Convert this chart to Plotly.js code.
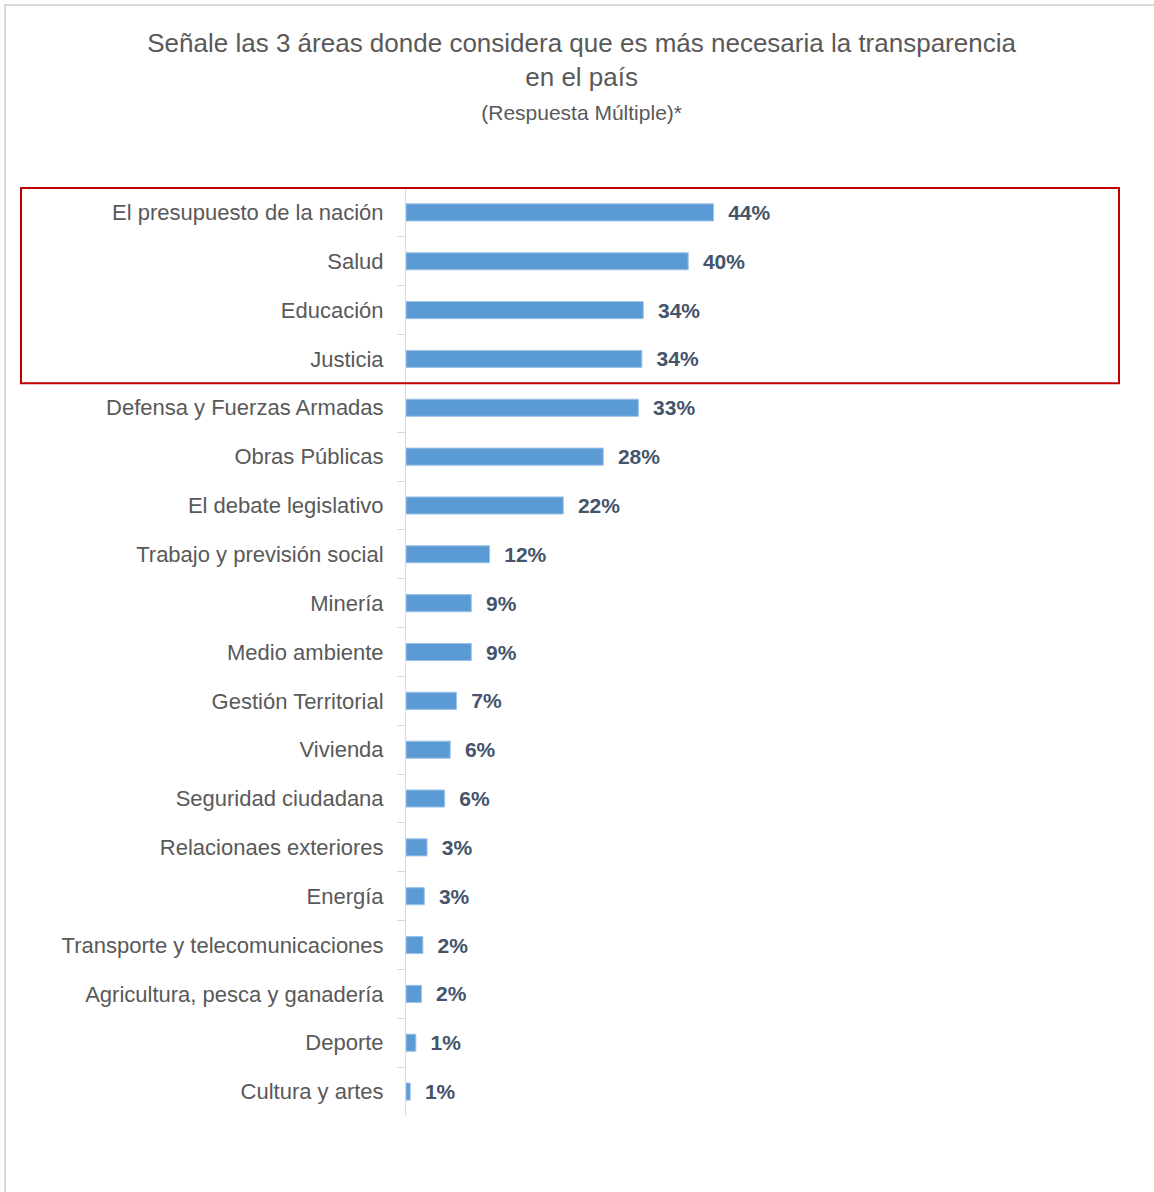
<!DOCTYPE html>
<html>
<head>
<meta charset="utf-8">
<script src="https://cdn.plot.ly/plotly-3.0.1.min.js"></script>
<style>
  html, body { margin: 0; padding: 0; background: #ffffff; }
  #wrap { position: relative; width: 1154px; height: 1192px; }
  #chart { width: 1154px; height: 1192px; }
  #frame { position: absolute; left: 4px; top: 4px; width: 1150px; height: 1188px;
           border-top: 2px solid #d9d9d9; border-left: 2px solid #d9d9d9; pointer-events: none; box-sizing: border-box; }
</style>
</head>
<body>
<div id="wrap">
  <div id="chart"></div>
  <div id="frame"></div>
</div>
<script>
const categories = [
  "El presupuesto de la nación",
  "Salud",
  "Educación",
  "Justicia",
  "Defensa y Fuerzas Armadas",
  "Obras Públicas",
  "El debate legislativo",
  "Trabajo y previsión social",
  "Minería",
  "Medio ambiente",
  "Gestión Territorial",
  "Vivienda",
  "Seguridad ciudadana",
  "Relacionaes exteriores",
  "Energía",
  "Transporte y telecomunicaciones",
  "Agricultura, pesca y ganadería",
  "Deporte",
  "Cultura y artes"
];
const values = [43.8, 40.2, 33.8, 33.6, 33.1, 28.1, 22.4, 11.9, 9.3, 9.3, 7.2, 6.3, 5.5, 3.0, 2.6, 2.4, 2.2, 1.4, 0.6];
const labels = ["44%", "40%", "34%", "34%", "33%", "28%", "22%", "12%", "9%", "9%", "7%", "6%", "6%", "3%", "3%", "2%", "2%", "1%", "1%"];

const trace = {
  type: "bar",
  orientation: "h",
  x: values,
  y: categories,
  text: labels.map(s => "\u00a0\u00a0" + s),
  textposition: "outside",
  constraintext: "none",
  cliponaxis: false,
  textfont: { family: "Liberation Sans, Arial, sans-serif", size: 21, color: "#44546a", weight: "bold" },
  marker: { color: "#5b9bd5", line: { color: "#9dc3e6", width: 1 } },
  hoverinfo: "none"
};

const layout = {
  width: 1154,
  height: 1192,
  paper_bgcolor: "#ffffff",
  plot_bgcolor: "#ffffff",
  margin: { l: 406, r: 46, t: 187, b: 76 },
  showlegend: false,
  bargap: 0.65,
  title: {
    text: "Señale las 3 áreas donde considera que es más necesaria la transparencia<br>en el país<br><span style='font-size:21px'>(Respuesta Múltiple)*</span>",
    font: { family: "Liberation Sans, Arial, sans-serif", size: 26, color: "#595959" },
    x: 0.504,
    xref: "container",
    xanchor: "center",
    y: 1 - 52 / 1192,
    yref: "container",
    yanchor: "top"
  },
  xaxis: {
    range: [0, 100],
    showgrid: false,
    zeroline: false,
    showline: false,
    showticklabels: false,
    ticks: "",
    fixedrange: true
  },
  yaxis: {
    type: "category",
    autorange: "reversed",
    showgrid: false,
    zeroline: false,
    showline: true,
    linecolor: "#d9d9d9",
    linewidth: 1,
    ticks: "outside",
    tickson: "boundaries",
    ticklen: 8,
    tickcolor: "#d9d9d9",
    tickwidth: 1,
    ticklabelstandoff: 17,
    tickfont: { family: "Liberation Sans, Arial, sans-serif", size: 22, color: "#595959" },
    fixedrange: true
  },
  shapes: [
    {
      type: "rect",
      xref: "paper", yref: "y",
      x0: (21 - 406) / 702, x1: (1119 - 406) / 702,
      y0: -0.5, y1: 3.5,
      line: { color: "#c00000", width: 2 },
      fillcolor: "rgba(0,0,0,0)"
    }
  ]
};

Plotly.newPlot("chart", [trace], layout, { displayModeBar: false, staticPlot: true });
</script>
</body>
</html>
